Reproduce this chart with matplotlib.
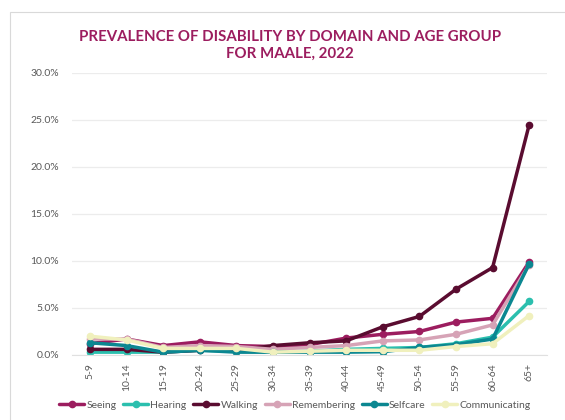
import matplotlib
matplotlib.use("Agg")
import matplotlib.pyplot as plt
from matplotlib.patches import Rectangle
from matplotlib.ticker import FuncFormatter

plt.rcParams['font.family'] = ['Lato', 'DejaVu Sans']

age_groups = ["5-9", "10-14", "15-19", "20-24", "25-29", "30-34", "35-39",
              "40-44", "45-49", "50-54", "55-59", "60-64", "65+"]

seeing =        [1.2, 1.7, 1.0, 1.4, 1.0, 0.9, 1.1, 1.8, 2.2, 2.5, 3.5, 3.9, 9.9]
hearing =       [0.3, 0.3, 0.3, 0.5, 0.4, 0.3, 0.4, 0.6, 0.7, 0.8, 1.2, 1.9, 5.7]
walking =       [0.6, 0.6, 0.3, 0.5, 0.5, 1.0, 1.3, 1.5, 3.0, 4.1, 7.0, 9.3, 24.5]
remembering =   [1.7, 1.7, 0.8, 1.0, 0.9, 0.6, 0.8, 1.0, 1.5, 1.6, 2.2, 3.2, 9.6]
selfcare =      [1.3, 1.0, 0.3, 0.5, 0.3, 0.3, 0.3, 0.3, 0.35, 0.8, 1.1, 1.7, 9.7]
communicating = [2.0, 1.6, 0.7, 0.7, 0.7, 0.3, 0.4, 0.5, 0.5, 0.5, 0.9, 1.2, 4.2]

series = [
    ("Seeing", seeing, "#9c1d5f"),
    ("Hearing", hearing, "#2bbfae"),
    ("Walking", walking, "#5a0c30"),
    ("Remembering", remembering, "#d6a3b6"),
    ("Selfcare", selfcare, "#0b8791"),
    ("Communicating", communicating, "#f0f0bd"),
]

fig = plt.figure(figsize=(5.65, 4.2), dpi=100)
ax = fig.add_axes([0.127, 0.1548, 0.842, 0.6714])

# outer frame of the chart area
fig.patches.append(Rectangle((10 / 565, -0.1), 1.2, 1 - 12 / 420 + 0.1,
                             transform=fig.transFigure, fill=False,
                             edgecolor="#d9d9d9", linewidth=0.8))

x = list(range(len(age_groups)))
for name, vals, color in series:
    ax.plot(x, vals, color=color, linewidth=2.5, marker="o", markersize=4.5,
            label=name, solid_capstyle="round")

ax.set_xlim(-0.5, len(age_groups) - 0.5)
ax.set_ylim(0, 30)
ax.set_yticks([0, 5, 10, 15, 20, 25, 30])
ax.yaxis.set_major_formatter(FuncFormatter(lambda v, p: f"{v:.1f}%"))
ax.set_xticks(x)
ax.set_xticklabels(age_groups, rotation=90)

ax.grid(axis="y", color="#ececec", linewidth=0.9)
ax.set_axisbelow(True)
for side in ["top", "right", "left"]:
    ax.spines[side].set_visible(False)
ax.spines["bottom"].set_color("#e0e0e0")
ax.tick_params(axis="both", length=0, colors="#595959", labelsize=7.5)
ax.tick_params(axis="y", pad=9)
ax.tick_params(axis="x", pad=6)

fig.text(0.513, 0.892, "PREVALENCE OF DISABILITY BY DOMAIN AND AGE GROUP\nFOR MAALE, 2022",
         ha="center", va="center", color="#9c1d5f", fontsize=10.8, fontweight="bold",
         linespacing=1.3)

leg = fig.legend(loc="center", bbox_to_anchor=(0.522, 0.036), ncol=6, frameon=False,
                 fontsize=7.5, handlelength=2.4, handletextpad=0.2, columnspacing=0.65,
                 labelcolor="#595959")

fig.savefig("out.png", dpi=100)
